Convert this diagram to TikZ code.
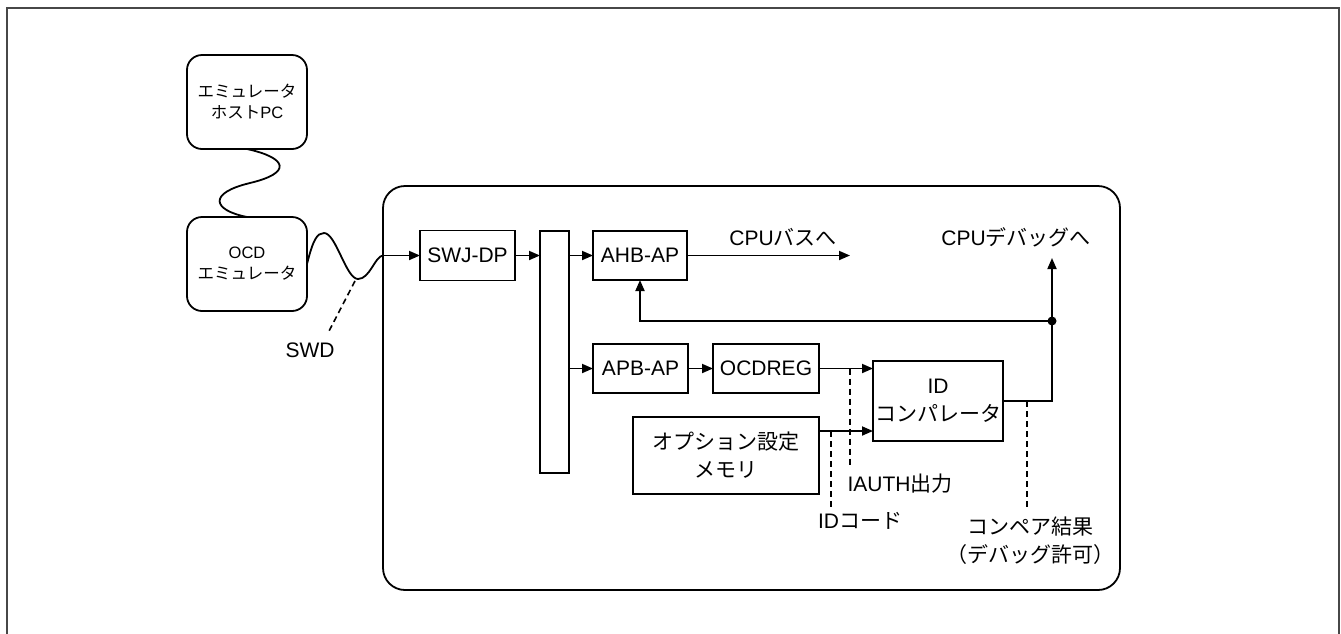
\documentclass[tikz,border=0pt]{standalone}
\usepackage{fontspec}
\setmainfont{Liberation Sans}
\newfontfamily\jp{Noto Sans CJK JP}
\usetikzlibrary{arrows.meta,calc}
\begin{document}
\begin{tikzpicture}[x=1pt,y=-1pt,
  box/.style={draw, line width=1.8pt, inner sep=0pt, outer sep=0pt, align=center, font=\fontsize{21}{28}\selectfont},
  rbox/.style={box, rounded corners=15pt, minimum width=120pt, minimum height=94pt, font=\fontsize{16.5}{21}\selectfont},
  arr/.style={line width=1.8pt, -{Triangle[length=11pt,width=9pt]}},
  ln/.style={line width=1.8pt},
  dsh/.style={line width=1.6pt, dash pattern=on 6pt off 4pt},
  lbl/.style={inner sep=0pt, outer sep=0pt, font=\fontsize{21}{28}\selectfont, align=center}]
\useasboundingbox (0,0) rectangle (1341,633);
% outer frame
\draw[line width=2pt, color=black!72] (7,660) -- (7,8) -- (1339,8) -- (1339,660);

% emulator side
\node[rbox] (host) at (247,102) {{\jp エミュレータ}\\{\jp ホスト}PC};
\node[rbox] (ocd) at (247,264) {OCD\\{\jp エミュレータ}};

% chip
\node[box, rounded corners=22pt, minimum width=737pt, minimum height=404pt] (chip) at (751.5,388) {};

% blocks
\node[box, minimum width=95pt, minimum height=50pt] (swj) at (467.5,255.5) {SWJ-DP};
\node[box, minimum width=29pt, minimum height=242pt] (bus) at (554.5,352) {};
\node[box, minimum width=94pt, minimum height=49pt] (ahb) at (640,255.5) {AHB-AP};
\node[box, minimum width=95pt, minimum height=49pt] (apb) at (640.5,368.5) {APB-AP};
\node[box, minimum width=106pt, minimum height=49pt] (ocdreg) at (766,368.5) {OCDREG};
\node[box, minimum width=130pt, minimum height=80pt] (idc) at (938,401) {ID\\{\jp コンパレータ}};
\node[box, minimum width=186pt, minimum height=77pt] (opt) at (726,455.5) {{\jp オプション設定}\\{\jp メモリ}};

% labels
\node[lbl] (lbus) at (783,237) {CPU{\jp バスへ}};
\node[lbl] (ldbg) at (1016,237) {CPU{\jp デバッグへ}};
\node[lbl] (lswd) at (310,350) {SWD};
\node[lbl] (liauth) at (900,484) {IAUTH{\jp 出力}};
\node[lbl] (lidc) at (860,521) {ID{\jp コード}};
\node[lbl] (lres) at (1030,541) {{\jp コンペア結果}\\{\jp （デバッグ許可）}};

% coordinates
\coordinate (cpubus) at (850,255.5);
\coordinate (cpudbg) at (1052,258);
\coordinate (optout) at (819,431);
\coordinate (busA) at (569,255.5);
\coordinate (busB) at (569,368.5);
\node[circle, fill, inner sep=0pt, minimum size=9pt] (jn) at (1052,321) {};
\coordinate (swdlink) at (383,255.5);

% cables
\draw[ln] (host.south) .. controls (288,158) and (292,173) .. (250,183)
          .. controls (208,193) and (212,210) .. (ocd.north);
\draw[ln] (ocd.east) .. controls (313,240) and (317,233) .. (324,233)
          .. controls (336,233) and (346,279) .. (358,279)
          .. controls (370,279) and (375,256) .. (swdlink);
\draw[arr] (swdlink) -- (swdlink -| swj.west);

% connections
\draw[arr] (swj.east) -- (swj.east -| bus.west);
\draw[arr] (busA) -- (busA -| ahb.west);
\draw[arr] (busB) -- (busB -| apb.west);
\draw[arr] (apb.east) -- (ocdreg.west);
\draw[arr] (ocdreg.east) -- (ocdreg.east -| idc.west);
\draw[arr] (optout) -- (optout -| idc.west);
\draw[arr] (ahb.east) -- (cpubus);
\draw[arr] (idc.east) -| (cpudbg);
\draw[arr] (jn.center) -| (ahb.south);

% dashed leaders
\coordinate (swdw) at (355,281);
\coordinate (swdl) at (328,333);
\draw[dsh] (swdw) -- (swdl);
\coordinate (ia1) at (850,368.5);
\coordinate (ia2) at (850,467);
\draw[dsh] (ia1) -- (ia2);
\coordinate (id1) at (831,431);
\coordinate (id2) at (831,507);
\draw[dsh] (id1) -- (id2);
\coordinate (cr1) at (1027,401);
\coordinate (cr2) at (1027,507);
\draw[dsh] (cr1) -- (cr2);
\end{tikzpicture}
\end{document}
